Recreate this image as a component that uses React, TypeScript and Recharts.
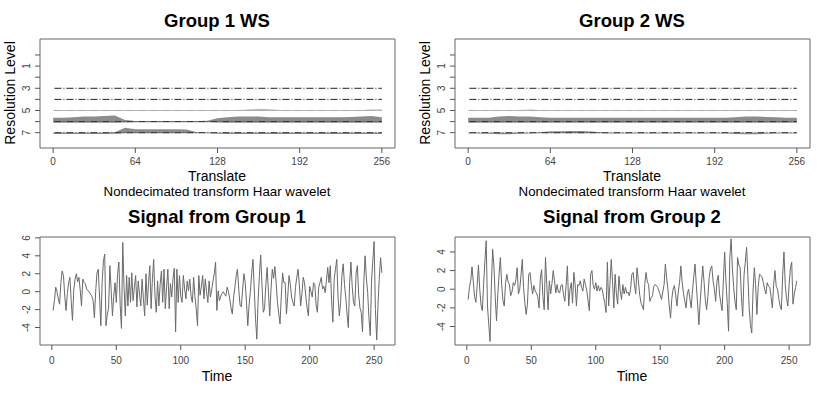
import React from 'react'
import {
    ComposedChart,
    LineChart,
    Line,
    Area,
    XAxis,
    YAxis,
    ReferenceLine,
    ReferenceArea,
} from 'recharts'

// wavelet panels
const translateTicks = [0, 64, 128, 192, 256]
const levelTicks = [0, 1, 2, 3, 4, 5, 6, 7]
const levels = [3, 4, 5, 6, 7]
const envT = [0, 8, 16, 24, 32, 40, 48, 56, 64, 72, 80, 88, 96, 104, 112, 120, 128,
    136, 144, 152, 160, 168, 176, 184, 192, 200, 208, 216, 224, 232, 240, 248, 256]

// coefficient envelopes (level units above / below the baseline)
const g1L5up = [0.05, 0.05, 0.05, 0.05, 0.05, 0.05, 0.05, 0.05, 0.05, 0.05, 0.05, 0.05, 0.05, 0.05, 0.05, 0.05, 0.05,
    0.05, 0.05, 0.08, 0.15, 0.1, 0.05, 0.05, 0.05, 0.05, 0.05, 0.05, 0.05, 0.05, 0.05, 0.08, 0.08]
const g1L5dn = [0.05, 0.05, 0.05, 0.05, 0.05, 0.05, 0.05, 0.05, 0.05, 0.05, 0.05, 0.05, 0.05, 0.05, 0.05, 0.05, 0.05,
    0.05, 0.05, 0.05, 0.05, 0.05, 0.05, 0.05, 0.05, 0.05, 0.05, 0.05, 0.05, 0.05, 0.05, 0.05, 0.05]
const g1L6up = [0.35, 0.35, 0.4, 0.45, 0.45, 0.5, 0.55, 0.15, 0.05, 0.05, 0.05, 0.05, 0.05, 0.05, 0.05, 0.08, 0.3,
    0.4, 0.45, 0.45, 0.45, 0.4, 0.38, 0.38, 0.38, 0.4, 0.4, 0.38, 0.4, 0.42, 0.45, 0.5, 0.4]
const g1L6dn = [0.1, 0.1, 0.1, 0.1, 0.1, 0.1, 0.1, 0.08, 0.05, 0.05, 0.05, 0.05, 0.05, 0.05, 0.05, 0.05, 0.08,
    0.1, 0.1, 0.1, 0.1, 0.1, 0.1, 0.1, 0.1, 0.1, 0.1, 0.1, 0.1, 0.1, 0.1, 0.1, 0.1]
const g1L7up = [0, 0, 0, 0, 0, 0, 0.05, 0.45, 0.3, 0.3, 0.3, 0.3, 0.3, 0.28, 0.05, 0.02, 0,
    0, 0, 0, 0, 0, 0, 0, 0, 0, 0, 0, 0, 0, 0, 0, 0]
const g1L7dn = [0.12, 0.12, 0.12, 0.12, 0.12, 0.12, 0.1, 0.05, 0.05, 0.05, 0.05, 0.05, 0.05, 0.05, 0.05, 0.05, 0.1,
    0.12, 0.12, 0.12, 0.12, 0.12, 0.12, 0.12, 0.12, 0.12, 0.12, 0.12, 0.12, 0.12, 0.12, 0.12, 0.12]

const g2L5up = [0.05, 0.05, 0.05, 0.05, 0.05, 0.05, 0.08, 0.05, 0.05, 0.05, 0.05, 0.05, 0.05, 0.05, 0.05, 0.05, 0.05,
    0.05, 0.05, 0.05, 0.05, 0.05, 0.05, 0.05, 0.05, 0.05, 0.05, 0.05, 0.05, 0.05, 0.05, 0.05, 0.05]
const g2L5dn = [0.05, 0.05, 0.05, 0.05, 0.05, 0.05, 0.05, 0.05, 0.05, 0.05, 0.05, 0.05, 0.05, 0.05, 0.05, 0.05, 0.05,
    0.05, 0.05, 0.05, 0.05, 0.05, 0.05, 0.05, 0.05, 0.05, 0.05, 0.05, 0.05, 0.05, 0.05, 0.05, 0.05]
const g2L6up = [0.35, 0.35, 0.35, 0.45, 0.5, 0.45, 0.45, 0.4, 0.35, 0.35, 0.35, 0.35, 0.35, 0.35, 0.35, 0.35, 0.35,
    0.35, 0.35, 0.35, 0.35, 0.35, 0.35, 0.35, 0.35, 0.35, 0.38, 0.45, 0.45, 0.42, 0.38, 0.35, 0.35]
const g2L6dn = [0.1, 0.1, 0.1, 0.1, 0.1, 0.1, 0.1, 0.1, 0.1, 0.1, 0.1, 0.1, 0.1, 0.1, 0.1, 0.1, 0.1,
    0.1, 0.1, 0.1, 0.1, 0.1, 0.1, 0.1, 0.1, 0.1, 0.1, 0.1, 0.1, 0.1, 0.1, 0.1, 0.1]
const g2L7up = [0, 0, 0, 0, 0, 0, 0, 0.05, 0.12, 0.12, 0.15, 0.15, 0.1, 0.05, 0, 0, 0,
    0, 0, 0, 0, 0, 0, 0, 0, 0, 0, 0, 0, 0, 0, 0, 0]
const g2L7dn = [0.08, 0.08, 0.1, 0.15, 0.15, 0.1, 0.08, 0.05, 0.05, 0.05, 0.05, 0.05, 0.05, 0.05, 0.08, 0.08, 0.08,
    0.08, 0.08, 0.08, 0.08, 0.08, 0.08, 0.08, 0.08, 0.08, 0.12, 0.15, 0.15, 0.1, 0.08, 0.08, 0.08]

// signal panels
const timeTicks = [0, 50, 100, 150, 200, 250]
const sig1Ticks = [-4, -2, 0, 2, 4, 6]
const sig2Ticks = [-4, -2, 0, 2, 4]

const sig1 = [
    -2.1, -1.0, 0.5, 0.0, -0.8, -1.4, 1.0, 2.3, 1.8, -0.5, -2.1, -0.2, 1.0, 1.6, -1.0, -3.2,
    0.2, 1.4, 2.0, 1.1, 1.6, 0.2, -1.6, 1.4, 1.0, 0.9, 0.3, 0.1, 0.0, -0.3, -0.5, -1.0,
    -2.9, 0.0, 2.1, 2.5, -0.6, -3.8, 1.0, 3.4, 4.2, -3.8, -2.5, -1.9, 2.9, 0.2, -2.7, -0.5,
    1.0, -1.2, 2.0, 3.3, -1.5, -4.1, 5.5, 0.5, -2.7, 1.8, -1.6, 1.6, -1.2, 2.1, -1.0, 0.5,
    1.8, -1.7, 1.2, -0.3, -1.6, 1.4, -0.8, -2.7, 2.0, -1.5, 1.0, 2.9, -1.9, 1.4, 3.6, -0.5,
    -2.3, 1.2, -1.6, 0.8, 2.3, -1.2, 2.5, -1.9, 0.5, 2.5, -1.9, 0.9, -0.6, 1.5, 2.6, -4.5,
    2.5, -1.2, 1.8, -0.5, -1.2, 1.8, 0.3, -0.8, 1.2, 0.1, 1.4, -0.5, -1.2, 1.6, -0.6, -1.9,
    -3.8, 1.8, -0.4, 0.6, 1.8, -0.8, 1.4, 0.0, -1.2, 1.2, -0.6, 0.2, 1.2, 2.0, 3.3, -2.1,
    0.1, -1.0, -0.5, -0.2, 0.0, -0.3, -0.5, 0.5, 0.0, -0.8, -1.8, -2.5, -0.6, 0.5, 1.8, 2.5,
    0.2, -1.5, -1.7, 0.3, 2.0, 1.0, -1.2, -3.8, -1.5, 0.0, 2.0, 3.6, 0.3, -3.0, -5.3, -1.0,
    1.8, 4.1, 0.8, -2.3, -1.9, 0.8, 2.7, 0.0, -2.7, 0.2, 2.5, 1.5, 2.8, 1.0, -1.2, -2.4,
    -3.6, -0.5, 2.1, 1.0, 1.0, -2.5, -0.5, 1.8, 0.8, -0.6, -1.2, -1.6, 0.5, 1.6, 2.5, 0.8,
    -1.6, -0.2, 1.6, 1.0, -0.5, -1.8, -2.7, 0.6, 0.0, -0.6, 1.0, 0.8, -1.5, -2.3, 0.5, 1.0,
    1.6, 0.3, 0.6, -0.1, 1.2, 2.7, 1.0, 2.9, -1.0, -3.4, 1.4, 2.5, 3.6, -0.5, -2.7, -1.2,
    1.8, 3.1, 0.8, -0.6, -2.5, -4.0, 1.0, 3.3, 0.6, -1.2, -1.6, 2.0, 2.9, -0.3, -1.8, -2.3,
    -4.5, 1.0, 4.0, 1.5, -0.1, -3.0, -4.9, 1.2, 3.5, 5.6, -2.0, -5.4, -1.5, 1.5, 3.8, 2.1,
]

const sig2 = [
    -1.1, 0.2, 0.9, 2.4, 0.8, -0.8, -1.4, 0.4, 2.6, 0.0, -1.7, -2.3, 0.5, 3.0, 5.2, -1.8,
    -3.8, -5.6, 0.4, 4.3, 2.5, -0.8, -3.4, -0.6, 1.6, 3.4, 0.5, -1.2, -1.8, 0.6, 1.6, 0.8,
    0.5, -0.7, -0.3, 0.7, 0.4, 1.0, 2.3, -0.5, 0.0, 1.5, 3.2, 0.2, -1.5, -2.7, -1.6, 1.6,
    1.8, 0.5, -0.5, 0.4, -0.2, -0.4, -0.8, -2.0, 1.2, 2.1, -0.8, -2.2, 3.4, 0.5, -2.2, 0.9,
    -0.5, 0.6, 2.0, 0.9, -0.4, 0.5, -0.3, -0.4, 0.4, 0.5, -0.6, -1.3, 0.4, 2.5, -1.8, 0.0,
    0.7, -1.5, 1.8, 0.5, -1.8, 0.5, 0.4, 0.9, 0.2, -0.2, 1.1, 0.5, -0.1, -1.2, -2.3, 1.6,
    2.0, 0.4, 0.0, 0.7, -0.2, 0.4, -0.2, 0.2, 0.0, -0.8, -1.5, -2.5, 2.9, -1.8, 0.5, 3.2,
    0.9, -2.0, 1.6, -0.5, -1.6, 1.4, -0.2, -1.1, 0.5, -0.5, 0.2, -0.4, -0.3, -0.7, 0.0, 1.6,
    1.8, 0.5, -0.5, 2.3, 1.0, -0.5, -1.4, -1.8, -2.2, 0.5, 1.8, 0.8, 0.5, -1.3, -0.9, -0.7,
    0.3, 0.5, 0.4, 0.2, -0.2, -0.6, -1.1, -0.3, 0.5, 2.7, 1.2, 0.0, -1.8, -3.1, -1.0, 0.0,
    0.4, -0.6, -1.8, -0.3, 0.7, 2.5, 0.8, -0.4, -1.2, -2.0, -0.5, 0.0, -1.0, -2.0, -0.2, 1.3,
    2.7, 0.5, -1.6, -3.8, -1.4, 0.6, 2.5, 0.8, -1.2, -2.2, -0.8, 1.3, 2.2, 2.5, 0.9, 0.0,
    -1.3, 0.8, 1.5, -0.5, -1.5, -2.3, 1.0, 4.0, 0.8, -1.5, -4.5, 3.4, 5.4, 2.2, 0.2, -1.3,
    -2.2, 3.4, 2.6, 2.3, -0.8, -2.9, 1.5, 2.9, 4.5, 1.5, -2.0, -3.8, -4.7, -0.2, 2.3, 0.5,
    -2.7, 0.2, 1.6, 1.5, 1.3, 0.7, 0.0, -0.5, 0.7, 0.3, 0.2, -0.8, -2.0, 0.5, 2.0, 0.3,
    0.0, -1.0, -1.8, -2.2, 1.5, 4.0, 0.5, -1.0, -1.8, 0.5, 2.3, 2.9, -1.6, -0.5, 0.2, 0.9,
]

const FONT = '"Liberation Sans", Arial, sans-serif'
const TRANS_DOMAIN = [-10.24, 266.24]
const LEVEL_DOMAIN = [-1.44, 8.38]
const TIME_DOMAIN = [-9.2, 266.2]

const levelStroke = { 3: '#222', 4: '#222', 5: '#aaa', 6: '#333', 7: '#333' }

const rotTick = (oddOnly: boolean) => (props: any) => {
    const { y, payload } = props
    const v = payload.value
    if (oddOnly && v % 2 === 0) return <g />
    return (
        <text
            x={27}
            y={y}
            transform={`rotate(-90 27 ${y})`}
            textAnchor="middle"
            dominantBaseline="central"
            fontSize={10}
            fill="#444"
        >
            {v}
        </text>
    )
}

const WSPanel = ({ left, up5, dn5, up6, dn6, up7, dn7 }) => {
    const data = envT.map((t, i) => ({
        t,
        b5: [5 - up5[i], 5 + dn5[i]],
        b6: [6 - up6[i], 6 + dn6[i]],
        b7: [7 - up7[i], 7 + dn7[i]],
    }))
    return (
        <div style={{ position: 'absolute', left, top: 0 }}>
            <ComposedChart width={415} height={200} data={data} margin={{ top: 39, right: 20, bottom: 0, left: 0 }}>
                <XAxis
                    type="number"
                    dataKey="t"
                    domain={TRANS_DOMAIN}
                    ticks={translateTicks}
                    interval={0}
                    allowDataOverflow
                    axisLine={false}
                    tickSize={5}
                    tickMargin={5}
                    stroke="#555"
                    tick={{ fill: '#444', fontSize: 10 }}
                    height={52}
                />
                <YAxis
                    type="number"
                    domain={LEVEL_DOMAIN}
                    reversed
                    ticks={levelTicks}
                    interval={0}
                    allowDataOverflow
                    axisLine={false}
                    tickSize={5}
                    stroke="#555"
                    tick={rotTick(true)}
                    width={40}
                />
                <Area type="linear" dataKey="b5" stroke="none" fill="#bbb" fillOpacity={1} isAnimationActive={false} activeDot={false} />
                <Area type="linear" dataKey="b6" stroke="none" fill="#8c8c8c" fillOpacity={1} isAnimationActive={false} activeDot={false} />
                <Area type="linear" dataKey="b7" stroke="none" fill="#8c8c8c" fillOpacity={1} isAnimationActive={false} activeDot={false} />
                {levels.map((l) => (
                    <ReferenceLine
                        key={l}
                        segment={[{ x: 1, y: l }, { x: 256, y: l }]}
                        stroke={levelStroke[l]}
                        strokeWidth={1}
                        strokeDasharray="7 2 1 2"
                    />
                ))}
                <ReferenceArea
                    x1={TRANS_DOMAIN[0]}
                    x2={TRANS_DOMAIN[1]}
                    y1={LEVEL_DOMAIN[0]}
                    y2={LEVEL_DOMAIN[1]}
                    fill="none"
                    stroke="#666"
                    strokeWidth={1}
                />
            </ComposedChart>
        </div>
    )
}

const SignalPanel = ({ left, values, domain, ticks }) => {
    const data = values.map((v, i) => ({ t: i + 1, v }))
    return (
        <div style={{ position: 'absolute', left, top: 200 }}>
            <LineChart width={415} height={195} data={data} margin={{ top: 37, right: 20, bottom: 0, left: 0 }}>
                <XAxis
                    type="number"
                    dataKey="t"
                    domain={TIME_DOMAIN}
                    ticks={timeTicks}
                    interval={0}
                    allowDataOverflow
                    axisLine={false}
                    tickSize={5}
                    tickMargin={7}
                    stroke="#555"
                    tick={{ fill: '#444', fontSize: 10 }}
                    height={50}
                />
                <YAxis
                    type="number"
                    domain={domain}
                    ticks={ticks}
                    interval={0}
                    allowDataOverflow
                    axisLine={false}
                    tickSize={5}
                    stroke="#555"
                    tick={rotTick(false)}
                    width={40}
                />
                <Line type="linear" dataKey="v" stroke="#6a6a6a" strokeWidth={1} dot={false} activeDot={false} isAnimationActive={false} />
                <ReferenceArea
                    x1={TIME_DOMAIN[0]}
                    x2={TIME_DOMAIN[1]}
                    y1={domain[0]}
                    y2={domain[1]}
                    fill="none"
                    stroke="#666"
                    strokeWidth={1}
                />
            </LineChart>
        </div>
    )
}

const Labels = ({ dx, group }) => (
    <g transform={`translate(${dx},0)`} fill="#000">
        <text x={217} y={27} textAnchor="middle" fontSize={18.5} fontWeight="bold">Group {group} WS</text>
        <text x={15} y={93} transform="rotate(-90 15 93)" textAnchor="middle" fontSize={14}>Resolution Level</text>
        <text x={217} y={181} textAnchor="middle" fontSize={14}>Translate</text>
        <text x={217} y={195.5} textAnchor="middle" fontSize={13.3}>Nondecimated transform Haar wavelet</text>
        <text x={217} y={223} textAnchor="middle" fontSize={18.5} fontWeight="bold">Signal from Group {group}</text>
        <text x={217} y={380.5} textAnchor="middle" fontSize={14}>Time</text>
    </g>
)

export default function App() {
    return (
        <div style={{ position: 'absolute', left: 0, top: 0, width: 830, height: 395, background: '#fff', fontFamily: FONT }}>
            <WSPanel left={0} up5={g1L5up} dn5={g1L5dn} up6={g1L6up} dn6={g1L6dn} up7={g1L7up} dn7={g1L7dn} />
            <WSPanel left={415} up5={g2L5up} dn5={g2L5dn} up6={g2L6up} dn6={g2L6dn} up7={g2L7up} dn7={g2L7dn} />
            <SignalPanel left={0} values={sig1} domain={[-5.95, 6.1]} ticks={sig1Ticks} />
            <SignalPanel left={415} values={sig2} domain={[-5.98, 5.6]} ticks={sig2Ticks} />
            <svg width={830} height={395} style={{ position: 'absolute', left: 0, top: 0, pointerEvents: 'none' }}>
                <Labels dx={0} group={1} />
                <Labels dx={415} group={2} />
            </svg>
        </div>
    )
}
